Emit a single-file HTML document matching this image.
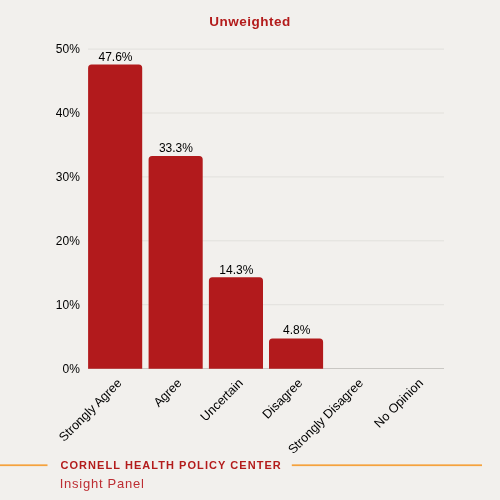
<!DOCTYPE html>
<html><head><meta charset="utf-8">
<style>
html,body{margin:0;padding:0;}
body{will-change:transform;width:500px;height:500px;background:#f2f0ed;position:relative;overflow:hidden;font-family:"Liberation Sans",sans-serif;}
.abs{position:absolute;white-space:nowrap;}
#title{left:0;width:500px;text-align:center;top:14px;font-size:13.5px;font-weight:bold;color:#b31b1b;letter-spacing:0.5px;line-height:16px;}
.yl{position:absolute;right:420.2px;font-size:12px;line-height:14px;color:#000;text-align:right;}
.vl{position:absolute;width:80px;text-align:center;font-size:12px;line-height:14px;color:#000;}
.xl{position:absolute;font-size:12.6px;line-height:14px;color:#000;transform-origin:100% 50%;transform:rotate(-45deg);text-align:right;}
#org{left:60.5px;top:458px;font-size:11px;font-weight:bold;color:#b31b1b;letter-spacing:1.05px;line-height:14px;}
#sub{left:59.7px;top:476px;font-size:13px;color:#bd2d32;letter-spacing:0.75px;line-height:16px;}
</style></head>
<body>
<div id="title" class="abs">Unweighted</div>

<svg class="abs" style="left:0;top:0" width="500" height="500" viewBox="0 0 500 500">
<rect x="88" y="48.60" width="356" height="1" fill="#e2e0dc"/>
<rect x="88" y="112.50" width="356" height="1" fill="#e2e0dc"/>
<rect x="88" y="176.40" width="356" height="1" fill="#e2e0dc"/>
<rect x="88" y="240.30" width="356" height="1" fill="#e2e0dc"/>
<rect x="88" y="304.20" width="356" height="1" fill="#e2e0dc"/>
<rect x="88" y="368" width="356" height="1" fill="#c9c7c3"/>
<path d="M88.10 368.7V67.90A3.5 3.5 0 0 1 91.60 64.4H138.70A3.5 3.5 0 0 1 142.20 67.90V368.7Z" fill="#b21a1c"/>
<path d="M148.60 368.7V159.40A3.5 3.5 0 0 1 152.10 155.9H199.20A3.5 3.5 0 0 1 202.70 159.40V368.7Z" fill="#b21a1c"/>
<path d="M208.90 368.7V280.80A3.5 3.5 0 0 1 212.40 277.3H259.50A3.5 3.5 0 0 1 263.00 280.80V368.7Z" fill="#b21a1c"/>
<path d="M269.00 368.7V341.90A3.5 3.5 0 0 1 272.50 338.4H319.60A3.5 3.5 0 0 1 323.10 341.90V368.7Z" fill="#b21a1c"/>
</svg>

<div class="yl" style="top:42px">50%</div>
<div class="yl" style="top:106px">40%</div>
<div class="yl" style="top:170px">30%</div>
<div class="yl" style="top:234px">20%</div>
<div class="yl" style="top:298px">10%</div>
<div class="yl" style="top:362px">0%</div>

<div class="vl" style="left:75.5px;top:50px">47.6%</div>
<div class="vl" style="left:135.9px;top:141px">33.3%</div>
<div class="vl" style="left:196.3px;top:263px">14.3%</div>
<div class="vl" style="left:256.7px;top:323px">4.8%</div>

<div class="xl" style="right:380px;top:373.5px">Strongly Agree</div>
<div class="xl" style="right:320px;top:373.5px">Agree</div>
<div class="xl" style="right:259.6px;top:373.5px">Uncertain</div>
<div class="xl" style="right:199.5px;top:373.5px">Disagree</div>
<div class="xl" style="right:139.4px;top:373.5px">Strongly Disagree</div>
<div class="xl" style="right:79.3px;top:373.5px">No Opinion</div>

<svg class="abs" style="left:0;top:0" width="500" height="500"><rect x="0" y="464.35" width="47.5" height="1.75" fill="#f5a23d"/><rect x="291.8" y="464.35" width="190.2" height="1.75" fill="#f5a23d"/></svg>
<div id="org" class="abs">CORNELL HEALTH POLICY CENTER</div>
<div id="sub" class="abs">Insight Panel</div>
</body></html>
